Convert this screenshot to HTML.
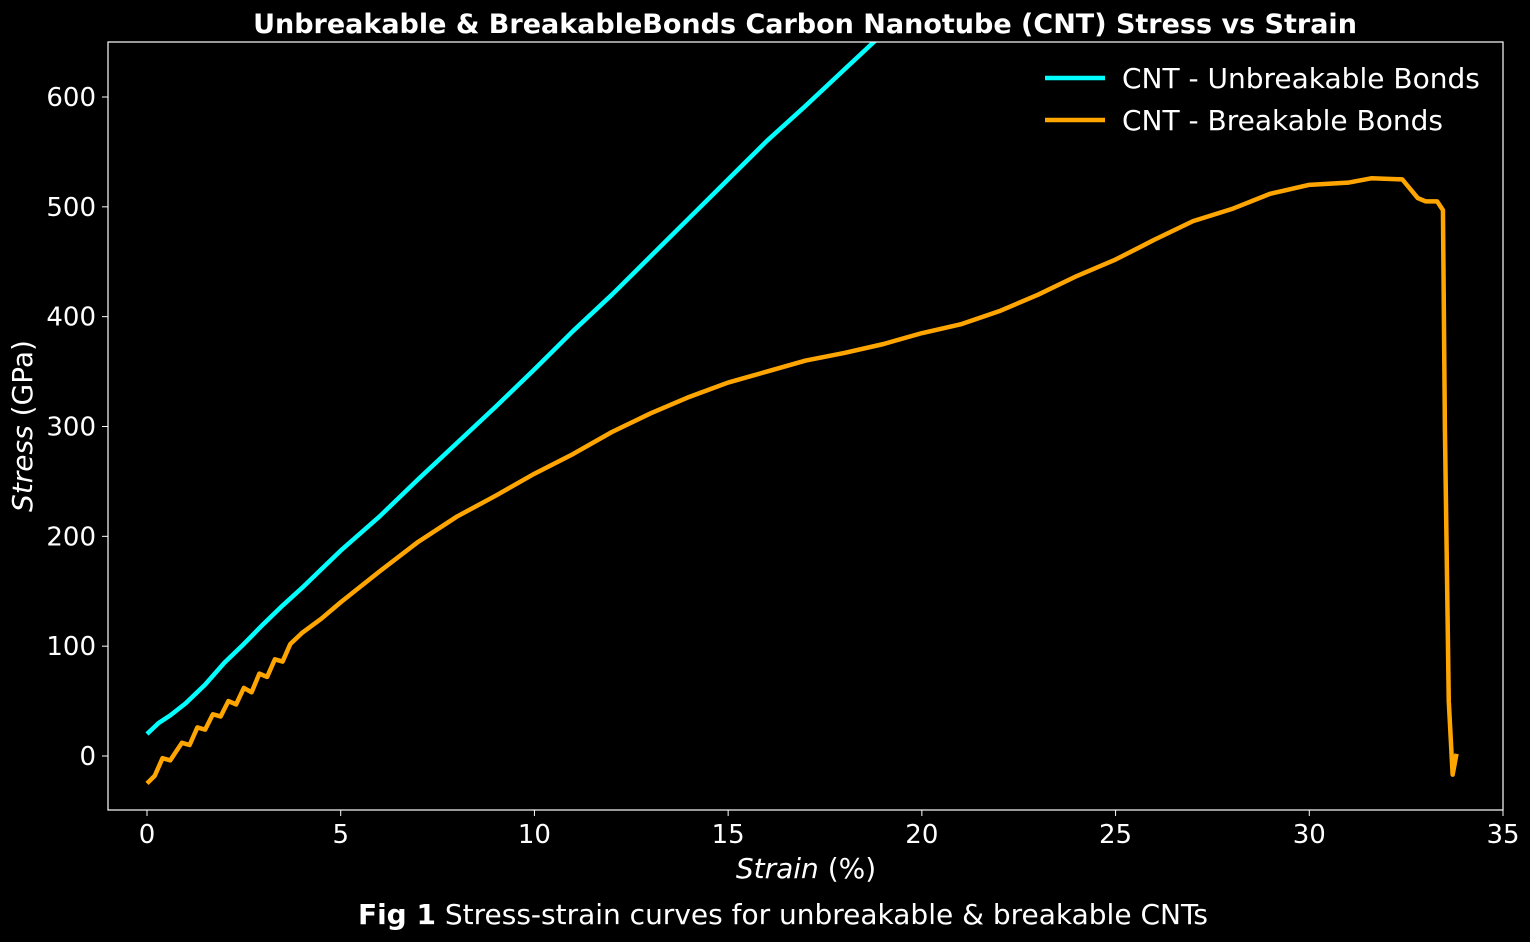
<!DOCTYPE html>
<html><head><meta charset="utf-8"><style>
html,body{margin:0;padding:0;background:#000;}
svg{display:block;font-family:"DejaVu Sans","Liberation Sans",sans-serif;}
</style></head><body>
<svg id="chart" width="1530" height="942" viewBox="0 0 1530 942">
<rect width="1530" height="942" fill="#000"/>
<text x="805" y="33" fill="#fff" font-size="27" font-weight="bold" text-anchor="middle">Unbreakable &amp; BreakableBonds Carbon Nanotube (CNT) Stress vs Strain</text>
<defs><clipPath id="pc"><rect x="108" y="42" width="1395" height="768"/></clipPath></defs>
<g id="series" clip-path="url(#pc)"></g>
<rect x="108" y="42" width="1395" height="768" fill="none" stroke="#fff" stroke-width="1.2"/>
<g id="xticks"></g><g id="yticks"></g>
<text x="806" y="878" fill="#fff" font-size="28" text-anchor="middle"><tspan font-style="italic">Strain</tspan> (%)</text>
<text transform="translate(32,426) rotate(-90)" fill="#fff" font-size="28" text-anchor="middle"><tspan font-style="italic">Stress</tspan> (GPa)</text>
<g>
<line x1="1045" y1="78" x2="1105" y2="78" stroke="#00ffff" stroke-width="4.5"/>
<text x="1122" y="88" fill="#fff" font-size="28">CNT - Unbreakable Bonds</text>
<line x1="1045" y1="120" x2="1105" y2="120" stroke="#ffa500" stroke-width="4.5"/>
<text x="1122" y="130" fill="#fff" font-size="28">CNT - Breakable Bonds</text>
</g>
<text x="783" y="924" fill="#fff" font-size="28" text-anchor="middle"><tspan font-weight="bold">Fig 1</tspan> Stress-strain curves for unbreakable &amp; breakable CNTs</text>
</svg>
<script>
const xTicks=[0,5,10,15,20,25,30,35];
const yTicks=[0,100,200,300,400,500,600];
const unbStrain=[0,0.3,0.6,1,1.5,2,2.5,3,3.5,4,4.5,5,6,7,8,9,10,11,12,13,14,15,16,17,18,19];
const unbStress=[20,30,37,48,65,85,102,120,137,153,170,187,218,252,285,318,352,387,420,455,490,525,560,592,625,658];
const brkStrain=[0,0.2,0.4,0.6,0.9,1.1,1.3,1.5,1.7,1.9,2.1,2.3,2.5,2.7,2.9,3.1,3.3,3.5,3.7,4,4.5,5,6,7,8,9,10,11,12,13,14,15,16,17,18,19,20,21,22,23,24,25,26,27,28,29,30,31,31.6,32.4,32.8,33,33.3,33.45,33.5,33.6,33.7,33.8];
const brkStress=[-25,-18,-2,-4,12,10,26,24,38,36,50,47,62,58,75,72,88,86,102,112,125,140,168,195,218,237,257,275,295,312,327,340,350,360,367,375,385,393,405,420,437,452,470,487,498,512,520,522,526,525,508,505,505,497,300,50,-17,2];
const X=v=>147+(v)*(1356/35), Y=v=>756-v*(659/600);
const NS="http://www.w3.org/2000/svg";
const xg=document.getElementById('xticks'), yg=document.getElementById('yticks'), sg=document.getElementById('series');
xTicks.forEach(t=>{
 const l=document.createElementNS(NS,'line');l.setAttribute('x1',X(t));l.setAttribute('x2',X(t));l.setAttribute('y1',810);l.setAttribute('y2',816);l.setAttribute('stroke','#fff');
 
 
 xg.appendChild(l);
 const s=document.createElementNS(NS,'text');s.setAttribute('x',X(t));s.setAttribute('y',843);s.setAttribute('fill','#fff');s.setAttribute('font-size','26');s.setAttribute('text-anchor','middle');s.textContent=t;
 
 
 xg.appendChild(s);
});
yTicks.forEach(t=>{
 const l=document.createElementNS(NS,'line');l.setAttribute('x1',102);l.setAttribute('x2',108);l.setAttribute('y1',Y(t));l.setAttribute('y2',Y(t));l.setAttribute('stroke','#fff');
 
 
 yg.appendChild(l);
 const s=document.createElementNS(NS,'text');s.setAttribute('x',96);s.setAttribute('y',Y(t)+9);s.setAttribute('fill','#fff');s.setAttribute('font-size','26');s.setAttribute('text-anchor','end');s.textContent=t;
 
 
 yg.appendChild(s);
});
function line(xs,ys,c,name){
 const p=document.createElementNS(NS,'polyline');
 p.setAttribute('points',xs.map((x,i)=>X(x)+','+Y(ys[i])).join(' '));
 p.setAttribute('fill','none');p.setAttribute('stroke',c);p.setAttribute('stroke-width','4.5');p.setAttribute('stroke-linejoin','round');
 
 
 sg.appendChild(p);
}
line(unbStrain,unbStress,'#00ffff','unbreakable-line');
line(brkStrain,brkStress,'#ffa500','breakable-line');
</script>
</body></html>
